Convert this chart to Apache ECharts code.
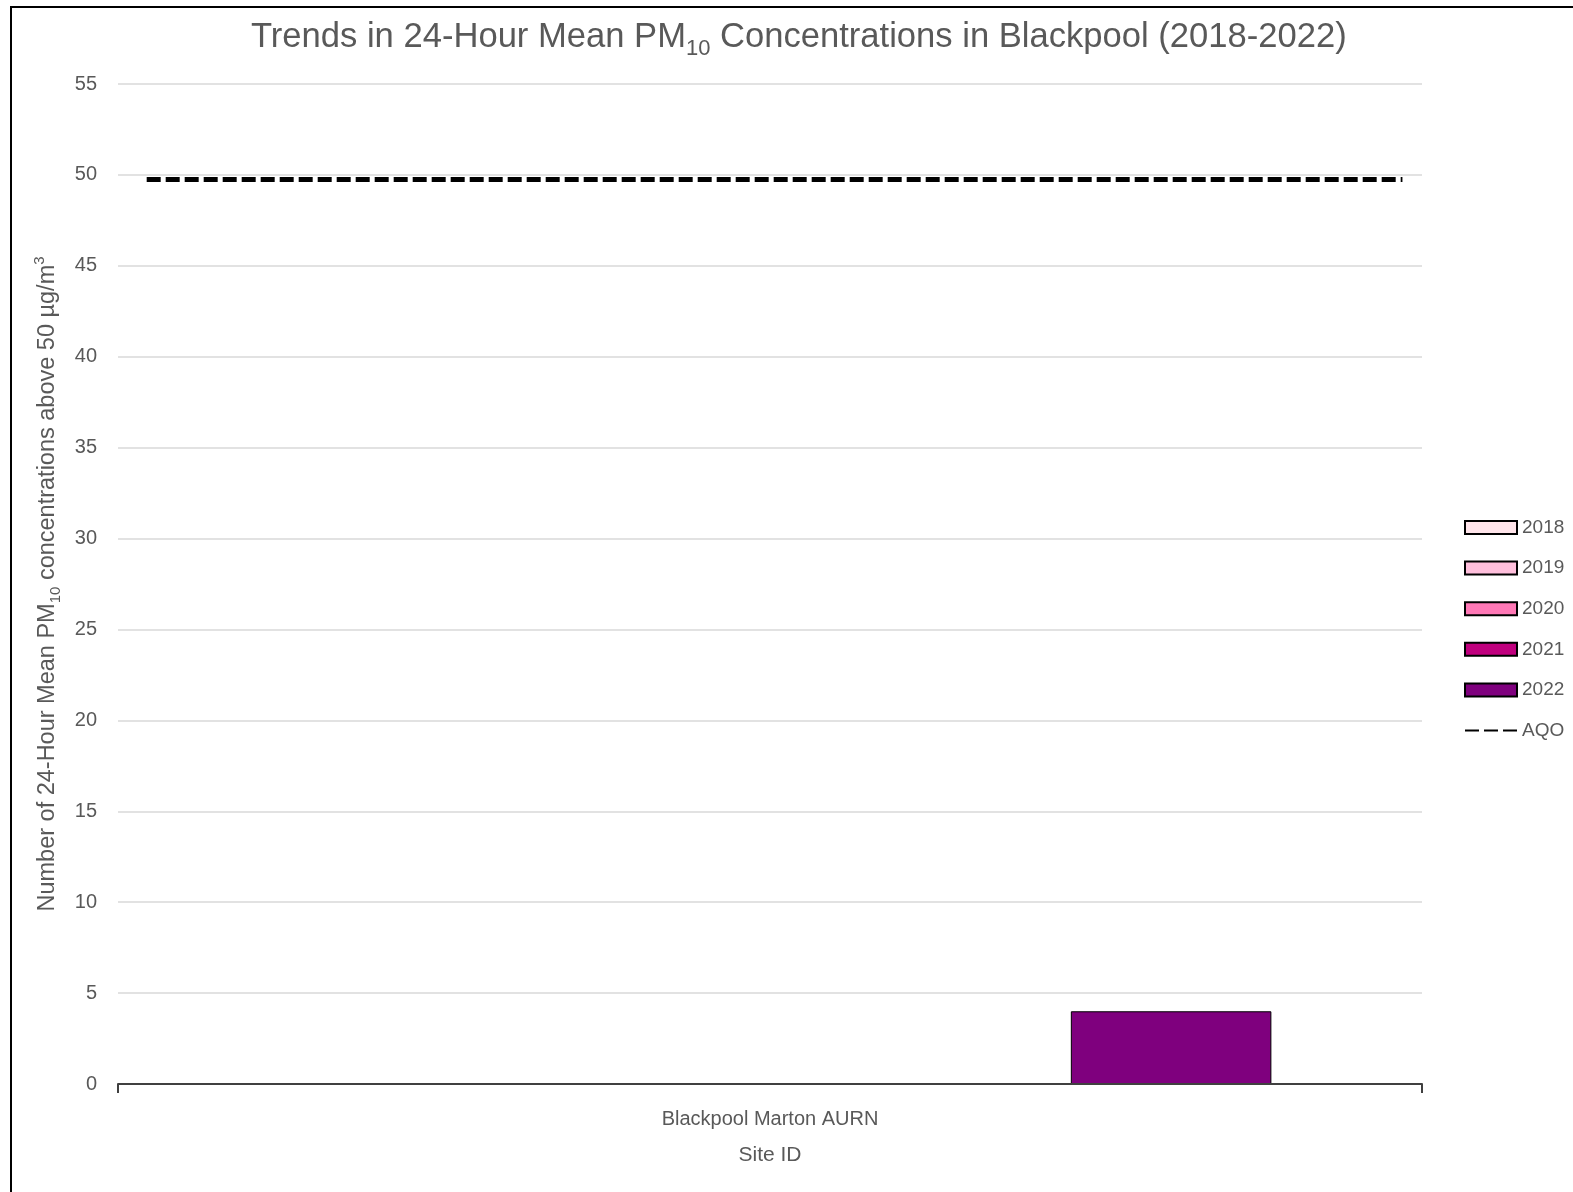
<!DOCTYPE html>
<html>
<head>
<meta charset="utf-8">
<title>PM10 exceedances – Blackpool</title>
<script src="https://cdn.jsdelivr.net/npm/echarts@6/dist/echarts.min.js"></script>
<style>
  html, body { margin: 0; padding: 0; background: #fff; }
  #chart { width: 1573px; height: 1192px; }
</style>
</head>
<body>
<div id="chart"></div>
<script>
// Monitoring sites on the category axis
const sites = ['Blackpool Marton AURN'];
// Reporting years, one bar series each
const years = ['2018', '2019', '2020', '2021', '2022'];
// Days with 24-hour mean PM10 above 50 µg/m³, per site, per year
const days2018 = [0];
const days2019 = [0];
const days2020 = [0];
const days2021 = [0];
const days2022 = [4];
const daysByYear = [days2018, days2019, days2020, days2021, days2022];
// Air quality objective reference line (value and horizontal extent on a 0–1 scale)
const aqoLevel = 49.75;
const aqoSpan = [0.022, 0.985];
// Value axis ticks
const yTicks = [0, 5, 10, 15, 20, 25, 30, 35, 40, 45, 50, 55];

const yearColours = ['#ffe4ea', '#ffbfdc', '#ff78b6', '#c0007e', '#7f007e'];
const FONT = '"Liberation Sans", Arial, sans-serif';
const GREY = '#595959';

const barSeries = years.map((y, i) => ({
  name: y,
  type: 'bar',
  xAxisIndex: 0,
  yAxisIndex: 0,
  data: daysByYear[i],
  barGap: '0%',
  barCategoryGap: '23.1%',
  itemStyle: { color: yearColours[i], borderColor: '#000', borderWidth: 1 }
}));

const aqoSeries = {
  name: 'AQO',
  type: 'line',
  xAxisIndex: 1,
  yAxisIndex: 0,
  symbol: 'none',
  data: aqoSpan.map(x => [x, aqoLevel]),
  lineStyle: { color: '#000', width: 5, type: [14, 5] },
  itemStyle: { color: '#000' },
  z: 5
};

const chart = echarts.init(document.getElementById('chart'));
chart.setOption({
  animation: false,
  backgroundColor: '#fff',
  textStyle: { fontFamily: FONT },
  graphic: [{
    type: 'rect',
    silent: true,
    shape: { x: 11, y: 7, width: 1600, height: 1220 },
    style: { fill: null, stroke: '#000', lineWidth: 2 }
  }],
  title: {
    text: '{t|Trends in 24-Hour Mean PM}{s|10}{t| Concentrations in Blackpool (2018-2022)}',
    left: 246,
    top: 8,
    textStyle: {
      fontWeight: 'normal',
      rich: {
        t: { fontFamily: FONT, fontSize: 34.6, fontWeight: 'normal', color: GREY, lineHeight: 42, verticalAlign: 'bottom' },
        s: { fontFamily: FONT, fontSize: 22, fontWeight: 'normal', color: GREY, lineHeight: 30, verticalAlign: 'bottom', padding: [0, 0, -5, 0] }
      }
    }
  },
  legend: {
    orient: 'vertical',
    left: 1459,
    top: 513,
    itemWidth: 52,
    itemHeight: 13,
    itemGap: 21.6,
    textStyle: { fontFamily: FONT, fontSize: 19, color: GREY, padding: [0, 0, 0, 0] },
    data: years.map(y => ({ name: y, icon: 'rect' })).concat([{ name: 'AQO', itemStyle: { opacity: 0 } }])
  },
  grid: { left: 118, right: 151, top: 84, bottom: 108, containLabel: false },
  xAxis: [{
    type: 'category',
    data: sites,
    z: 10,
    axisLine: { lineStyle: { color: '#404040', width: 2 } },
    axisTick: { show: true, length: 9, lineStyle: { color: '#404040', width: 2 } },
    axisLabel: { fontFamily: FONT, fontSize: 20, color: GREY, margin: 25 },
    name: 'Site ID',
    nameLocation: 'middle',
    nameGap: 61,
    nameTextStyle: { fontFamily: FONT, fontSize: 21, color: GREY }
  }, {
    type: 'value',
    min: 0,
    max: 1,
    show: false
  }],
  yAxis: [{
    type: 'value',
    min: yTicks[0],
    max: yTicks[yTicks.length - 1],
    interval: yTicks[1] - yTicks[0],
    axisLine: { show: false },
    axisTick: { show: false },
    splitLine: { lineStyle: { color: '#d9d9d9', width: 1.5 } },
    axisLabel: { fontFamily: FONT, fontSize: 20, color: GREY, margin: 21 },
    name: '{t|Number of 24-Hour Mean PM}{s|10}{t| concentrations above 50 µg/m}{p|3}',
    nameLocation: 'middle',
    nameRotate: 90,
    nameGap: 58,
    nameTextStyle: {
      rich: {
        t: { fontFamily: FONT, fontSize: 23.5, color: GREY, lineHeight: 28, verticalAlign: 'bottom' },
        s: { fontFamily: FONT, fontSize: 15, color: GREY, lineHeight: 18, verticalAlign: 'bottom', padding: [0, 0, -3, 0] },
        p: { fontFamily: FONT, fontSize: 15, color: GREY, lineHeight: 18, verticalAlign: 'top' }
      }
    }
  }],
  series: barSeries.concat([aqoSeries])
});
</script>
</body>
</html>
